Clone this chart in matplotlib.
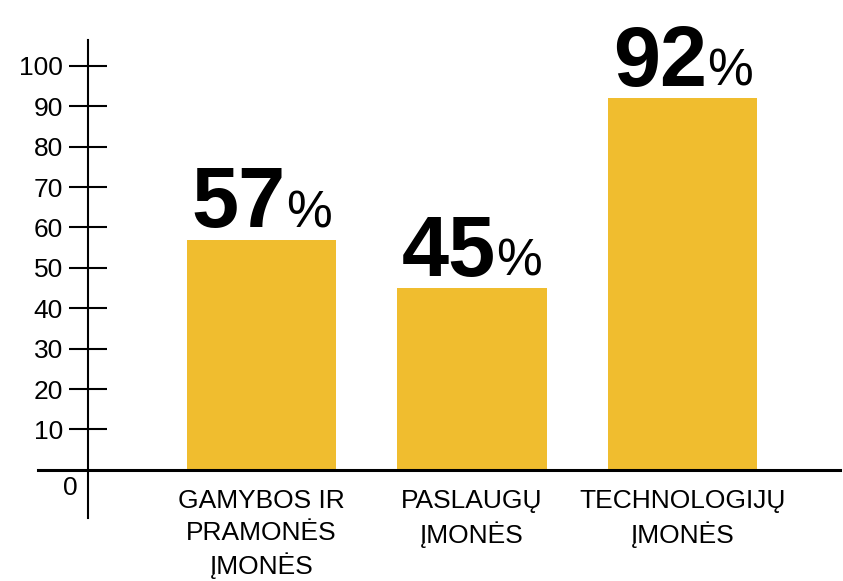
import matplotlib.pyplot as plt
from matplotlib.offsetbox import TextArea, HPacker, AnnotationBbox

plt.switch_backend('agg')
plt.rcParams['font.family'] = ['Liberation Sans', 'DejaVu Sans']

# data
categories = ['GAMYBOS IR\nPRAMONĖS\nĮMONĖS', 'PASLAUGŲ\nĮMONĖS', 'TECHNOLOGIJŲ\nĮMONĖS']
values = [57, 45, 92]
y_ticks = [10, 20, 30, 40, 50, 60, 70, 80, 90, 100]

bar_color = '#F0BD2F'

fig = plt.figure(figsize=(8.43, 5.81), dpi=100)
ax = fig.add_axes([0, 0, 1, 1])
x = list(range(len(values)))
ax.bar(x, values, width=0.708, color=bar_color, zorder=1)

ax.set_xlim(-1.242, 2.762)
ax.set_ylim(-27.5, 116.3)

# axes lines
for s in ['top', 'right']:
    ax.spines[s].set_visible(False)
ax.spines['left'].set_position(('data', -0.824))
ax.spines['left'].set_bounds(-12, 106.5)
ax.spines['left'].set_linewidth(1.5)
ax.spines['bottom'].set_position(('data', 0))
ax.spines['bottom'].set_bounds(-1.062, 2.748)
ax.spines['bottom'].set_linewidth(2.2)
ax.spines['bottom'].set_zorder(3)

ax.set_yticks(y_ticks)
ax.set_yticklabels([str(t) for t in y_ticks], fontsize=19)
ax.tick_params(axis='y', direction='inout', length=28, width=1.5, pad=4)
ax.set_xticks([])
ax.annotate('0', xy=(-0.824, 0), xytext=(-13, -13), textcoords='offset points',
            ha='center', va='center', fontsize=19)

# category labels
for i, c in enumerate(categories):
    ax.annotate(c, xy=(i, 0), xytext=(0, -14), textcoords='offset points',
                ha='center', va='top', fontsize=19, linespacing=1.38)

# value labels
for i, v in enumerate(values):
    num = TextArea(str(v), textprops=dict(fontsize=61, fontweight='bold'))
    pct = TextArea('%', textprops=dict(fontsize=37))
    box = HPacker(children=[num, pct], align='baseline', pad=0, sep=0)
    ab = AnnotationBbox(box, (i, v), xybox=(0, -4), boxcoords='offset points',
                        box_alignment=(0.5, 0), frameon=False)
    ax.add_artist(ab)

fig.savefig('out.png', dpi=100)
